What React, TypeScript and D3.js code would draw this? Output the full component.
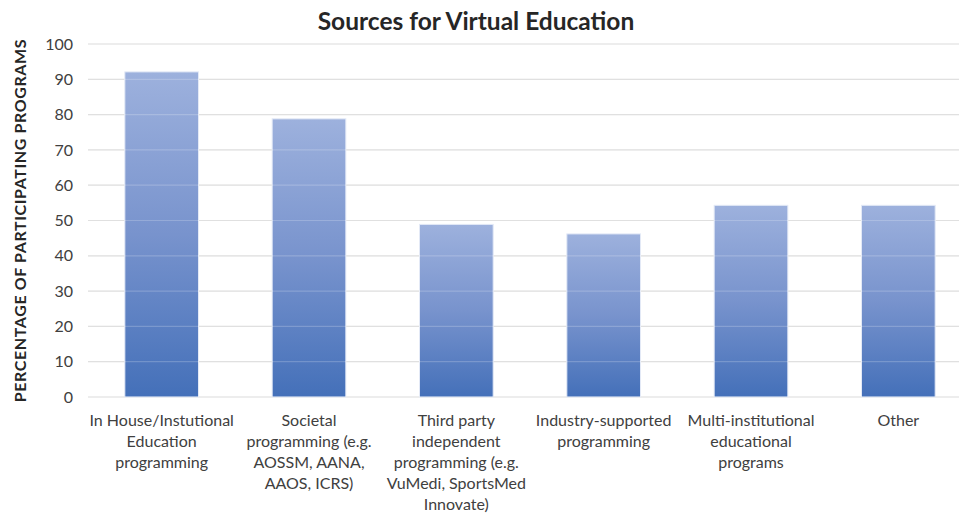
import React from "react";
import * as d3 from "d3";

const categories: string[] = [
  "In House/Instutional\nEducation\nprogramming",
  "Societal\nprogramming (e.g.\nAOSSM, AANA,\nAAOS, ICRS)",
  "Third party\nindependent\nprogramming (e.g.\nVuMedi, SportsMed\nInnovate)",
  "Industry-supported\nprogramming",
  "Multi-institutional\neducational\nprograms",
  "Other",
];
const values: number[] = [92.1, 78.8, 48.9, 46.2, 54.3, 54.3];
const yTicks: number[] = [0, 10, 20, 30, 40, 50, 60, 70, 80, 90, 100];
const title = "Sources for Virtual Education";
const yTitle = "PERCENTAGE OF PARTICIPATING PROGRAMS";

const W = 959;
const H = 513;
const FONT = "Lato, 'Open Sans', sans-serif";

export default function App() {
  const x = d3
    .scaleBand<number>()
    .domain(d3.range(categories.length))
    .range([88, 972])
    .paddingInner(0.5)
    .paddingOuter(0.25);
  const y = d3.scaleLinear().domain([0, 100]).range([397, 44]);

  return (
    <svg
      width={W}
      height={H}
      style={{ position: "absolute", left: 0, top: 0, background: "#fff" }}
      fontFamily={FONT}
    >
      <defs>
        <linearGradient id="barGrad" x1="0" y1="0" x2="0" y2="1">
          <stop offset="0%" stopColor="#9DB1DD" />
          <stop offset="50%" stopColor="#7893CD" />
          <stop offset="100%" stopColor="#4470B9" />
        </linearGradient>
      </defs>
      <rect x={0} y={0} width={W} height={H} fill="#fff" />
      <text
        x={476}
        y={30}
        textAnchor="middle"
        fontSize={24.5}
        fontWeight="bold"
        fill="#262626"
      >
        {title}
      </text>
      {yTicks.map((t) => (
        <g key={t}>
          <line
            x1={88}
            x2={W}
            y1={y(t)}
            y2={y(t)}
            stroke="#d9d9d9"
            strokeWidth={1.2}
          />
          <text
            x={73}
            y={y(t)}
            dy="0.35em"
            textAnchor="end"
            fontSize={16}
            fill="#404040"
          >
            {t}
          </text>
        </g>
      ))}
      {values.map((v, i) => (
        <rect
          key={i}
          x={x(i)!}
          y={y(v)}
          width={x.bandwidth()}
          height={y(0) - y(v)}
          fill="url(#barGrad)"
          stroke="#e3e9f6"
          strokeWidth={1}
        />
      ))}
      {yTicks.map((t) => (
        <line
          key={"o" + t}
          x1={88}
          x2={W}
          y1={y(t)}
          y2={y(t)}
          stroke="#ffffff"
          strokeOpacity={0.2}
          strokeWidth={1.2}
        />
      ))}
      {categories.map((c, i) => {
        const cx = x(i)! + x.bandwidth() / 2;
        return (
          <text key={i} textAnchor="middle" fontSize={16} fill="#404040">
            {c.split("\n").map((ln, j) => (
              <tspan key={j} x={cx} y={426 + j * 21}>
                {ln}
              </tspan>
            ))}
          </text>
        );
      })}
      <text
        transform={`translate(26,${y(50)}) rotate(-90)`}
        textAnchor="middle"
        fontSize={16}
        letterSpacing={0.6}
        fontWeight="bold"
        fill="#262626"
      >
        {yTitle}
      </text>
    </svg>
  );
}
